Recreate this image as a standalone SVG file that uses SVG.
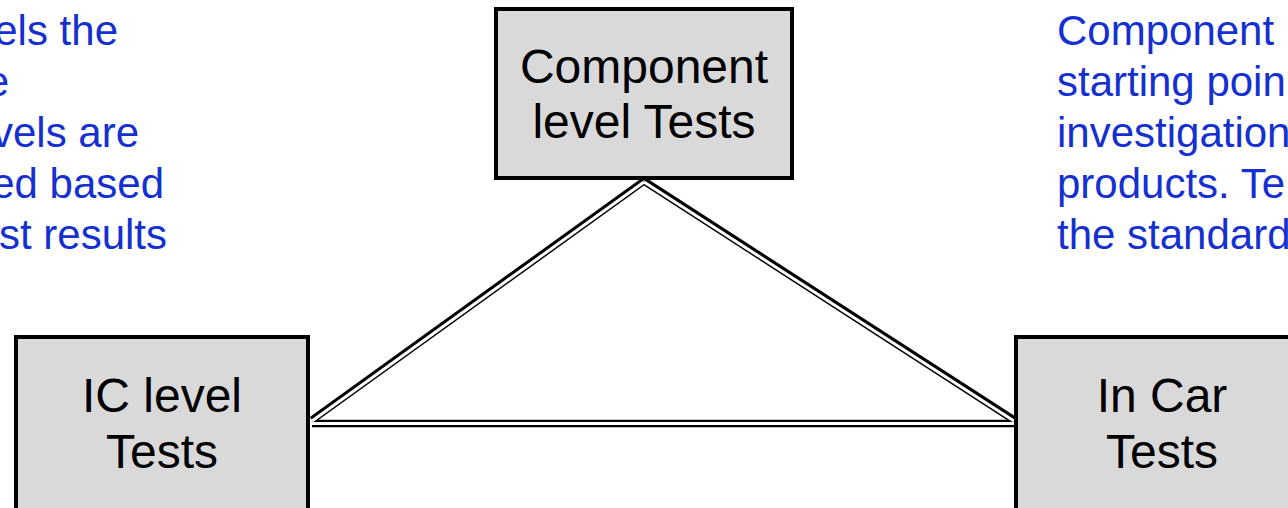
<svg xmlns="http://www.w3.org/2000/svg" width="1288" height="508" viewBox="0 0 1288 508">
<style>
.box{fill:#d9d9d9;stroke:#000;stroke-width:4}
.lbl{font-family:"Liberation Sans",Arial,sans-serif;font-size:48px;fill:#000;text-anchor:middle}
.note{font-family:"Liberation Sans",Arial,sans-serif;font-size:42px;fill:#1530d0}
.outer{fill:none;stroke:#000;stroke-width:7.5}
.inner{fill:none;stroke:#fff;stroke-width:3}
</style>
<rect width="1288" height="508" fill="#fff"/>
<g id="note-left" class="note" text-anchor="end">
<text x="118" y="45">els the</text>
<text x="9" y="96">e</text>
<text x="139" y="147">vels are</text>
<text x="164" y="198">ed based</text>
<text x="167" y="249">st results</text>
</g>
<g id="note-right" class="note">
<text x="1057" y="45">Component</text>
<text x="1057" y="96">starting poin</text>
<text x="1057" y="147">investigation</text>
<text x="1057" y="198">products. Te</text>
<text x="1057" y="249">the standard</text>
</g>
<g id="connectors">
<path class="outer" d="M644,181 L312,420"/>
<path class="outer" d="M644,181 L1014,420"/>
<path class="outer" d="M312,423.5 L1014,423.5"/>
<path class="inner" d="M644,182 L312,421"/>
<path class="inner" d="M644,182 L1014,421"/>
<path class="inner" d="M312,423.5 L1014,423.5"/>
</g>
<g id="node-component">
<rect class="box" x="496" y="9" width="296" height="169"/>
<text class="lbl" x="644" y="83">Component</text>
<text class="lbl" x="644" y="138">level Tests</text>
</g>
<g id="node-ic">
<rect class="box" x="16" y="337" width="292" height="175"/>
<text class="lbl" x="162" y="412">IC level</text>
<text class="lbl" x="162" y="468">Tests</text>
</g>
<g id="node-incar">
<rect class="box" x="1016" y="337" width="292" height="175"/>
<text class="lbl" x="1162" y="412">In Car</text>
<text class="lbl" x="1162" y="468">Tests</text>
</g>
</svg>
